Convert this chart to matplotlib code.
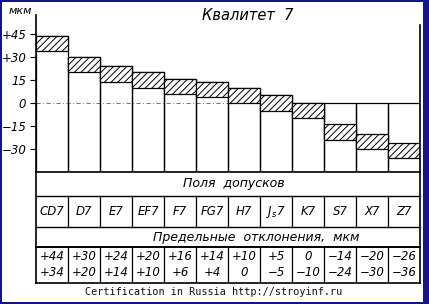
import numpy as np
import matplotlib
matplotlib.use('Agg')
import matplotlib.pyplot as plt
from matplotlib.patches import Rectangle

# tolerance fields, quality 7 (deviations in micrometres)
fields = ['CD7', 'D7', 'E7', 'EF7', 'F7', 'FG7', 'H7', 'J$_s$7', 'K7', 'S7', 'X7', 'Z7']
upper = [44, 30, 24, 20, 16, 14, 10, 5, 0, -14, -20, -26]
lower = [34, 20, 14, 10, 6, 4, 0, -5, -10, -24, -30, -36]

y_ticks = [45, 30, 15, 0, -15, -30]
y_tick_labels = ['+45', '+30', '15', '0', '\u221215', '\u221230']


def fmt(v):
    if v == 0:
        return '0'
    if v > 0:
        return f'+{v}'
    return f'\u2212{abs(v)}'


W, H = 429, 304
plt.rcParams['hatch.linewidth'] = 0.7
fig = plt.figure(figsize=(W / 100, H / 100), dpi=100)
fig.patch.set_facecolor('white')

# chart area
px_per_um = 1.53
y0_px = 103
ax = fig.add_axes([36 / W, 1 - 172 / H, 384 / W, (172 - 15) / H])
ax.set_xlim(0, 12)
ax.set_ylim(-(172 - y0_px) / px_per_um, (y0_px - 15) / px_per_um)
ybot = ax.get_ylim()[0]

x = np.arange(len(fields))
up = np.array(upper)
lo = np.array(lower)
tops = np.maximum(up, 0)

ax.plot([0, 8], [0, 0], ls=(0, (5, 3, 1, 3)), lw=0.6, color='0.35', zorder=1)
ax.bar(x, tops - ybot, bottom=ybot, width=1, align='edge', facecolor='none',
       edgecolor='black', lw=0.9, zorder=2)
ax.bar(x, up - lo, bottom=lo, width=1, align='edge', facecolor='white',
       edgecolor='black', lw=0.9, hatch='/////', zorder=3)
ax.plot([12, 12], [ybot, (y0_px - 25) / px_per_um], color='black', lw=1.2,
        clip_on=False, zorder=4)

for s in ['top', 'right', 'bottom']:
    ax.spines[s].set_visible(False)
ax.spines['left'].set_linewidth(1.2)
ax.set_xticks([])
ax.set_yticks(y_ticks)
ax.set_yticklabels(y_tick_labels, fontsize=8.5, style='italic')
ax.tick_params(axis='y', direction='out', length=4, width=0.8, pad=3)
ax.patch.set_alpha(0)

fig.text(20 / W, 1 - 11 / H, 'мкм', fontsize=8, style='italic',
         ha='center', va='center')
fig.text(248 / W, 1 - 16 / H, 'Квалитет  7', fontsize=10.5, style='italic',
         ha='center', va='center')

# table below the chart
tax = fig.add_axes([36 / W, 1 - 283 / H, 384 / W, 111 / H])
tax.set_xlim(0, 12)
tax.set_ylim(111, 0)
tax.axis('off')

for yy, lw in [(0, 1.2), (24, 1.0), (55, 1.0), (75, 1.4), (111, 1.2)]:
    tax.plot([0, 12], [yy, yy], color='black', lw=lw, clip_on=False)
for xx in [0, 12]:
    tax.plot([xx, xx], [0, 111], color='black', lw=1.2, clip_on=False)
for xx in range(1, 12):
    tax.plot([xx, xx], [24, 55], color='black', lw=0.9)
    tax.plot([xx, xx], [75, 111], color='black', lw=0.9)

tax.text(6.19, 12, 'Поля  допусков', fontsize=9, style='italic',
         ha='center', va='center')
tax.text(6.88, 65, 'Предельные  отклонения,  мкм', fontsize=9, style='italic',
         ha='center', va='center')

for i, name in enumerate(fields):
    tax.text(i + 0.5, 39.5, name, fontsize=8.5, style='italic',
             ha='center', va='center')
    tax.text(i + 0.5, 85, fmt(upper[i]), fontsize=8.5, style='italic',
             ha='center', va='center')
    tax.text(i + 0.5, 101, fmt(lower[i]), fontsize=8.5, style='italic',
             ha='center', va='center')

fig.text(214 / W, 1 - 292 / H, 'Certification in Russia http://stroyinf.ru',
         family='DejaVu Sans Mono', fontsize=7.3, color='#111111',
         ha='center', va='center')

# blue frame round the picture
frame = '#14148a'
for (fx, fy, fw, fh) in [(0, 0, 2 / W, 1), (0, 0, 1, 2 / H),
                         (0, 1 - 2 / H, 1, 2 / H), (1 - 6 / W, 0, 6 / W, 1)]:
    fig.patches.append(Rectangle((fx, fy), fw, fh, transform=fig.transFigure,
                                 facecolor=frame, edgecolor='none', zorder=10))

fig.savefig('out.png', dpi=100)
